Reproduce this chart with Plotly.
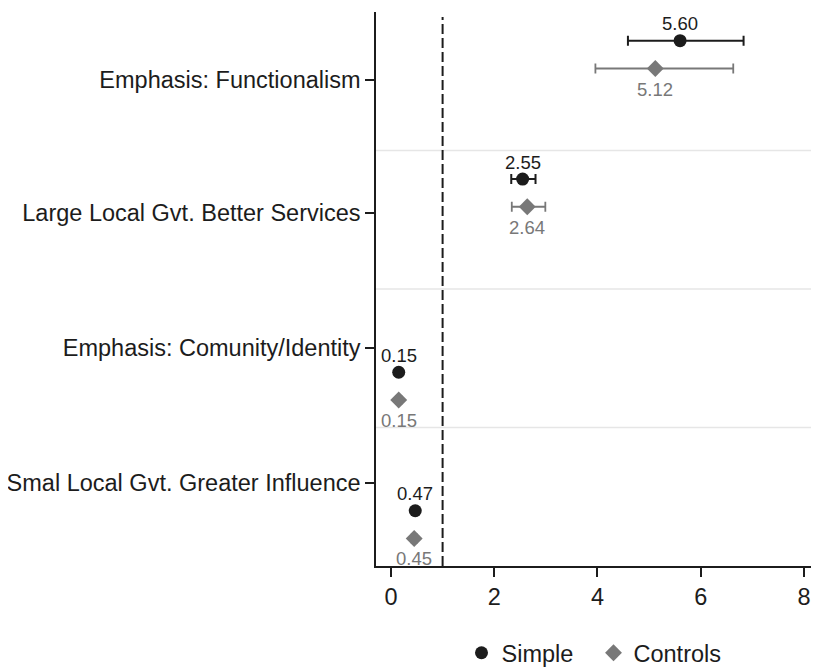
import plotly.graph_objects as go

categories = ["Emphasis: Functionalism", "Large Local Gvt. Better Services",
              "Emphasis: Comunity/Identity", "Smal Local Gvt. Greater Influence"]
simple = [5.60, 2.55, 0.15, 0.47]
simple_lo = [4.59, 2.33, 0.10, 0.42]
simple_hi = [6.83, 2.80, 0.20, 0.52]
controls = [5.12, 2.64, 0.15, 0.45]
controls_lo = [3.96, 2.34, 0.10, 0.40]
controls_hi = [6.63, 2.99, 0.20, 0.50]
xticks = [0, 2, 4, 6, 8]
reference_value = 1

# layout positions (band units, top = 0)
simple_pos = [0.207, 1.206, 2.601, 3.601]
controls_pos = [0.408, 1.406, 2.801, 3.801]
tick_pos = [0.491, 1.451, 2.426, 3.40]
band_edges = [1, 2, 3]

BLACK = "#1c1c1c"
GRAY = "#787878"
FONT = "Liberation Sans, Arial, sans-serif"

fig = go.Figure()
fig.add_trace(go.Scatter(
    x=simple, y=simple_pos, mode="markers", name="Simple",
    marker=dict(symbol="circle", size=13, color=BLACK),
    error_x=dict(type="data", symmetric=False,
                 array=[h - v for h, v in zip(simple_hi, simple)],
                 arrayminus=[v - l for v, l in zip(simple, simple_lo)],
                 color=BLACK, thickness=2, width=5),
))
fig.add_trace(go.Scatter(
    x=controls, y=controls_pos, mode="markers", name="Controls",
    marker=dict(symbol="diamond", size=13, color=GRAY),
    error_x=dict(type="data", symmetric=False,
                 array=[h - v for h, v in zip(controls_hi, controls)],
                 arrayminus=[v - l for v, l in zip(controls, controls_lo)],
                 color=GRAY, thickness=1.8, width=5),
))

annotations = []
for v, p in zip(simple, simple_pos):
    annotations.append(dict(x=v, y=p, xref="x", yref="y", text=f"{v:.2f}",
                            showarrow=False, yshift=17, yanchor="middle",
                            font=dict(size=18.5, color=BLACK, family=FONT)))
for v, p in zip(controls, controls_pos):
    annotations.append(dict(x=v, y=p, xref="x", yref="y", text=f"{v:.2f}",
                            showarrow=False, yshift=-20.5, yanchor="middle",
                            font=dict(size=18.5, color=GRAY, family=FONT)))

shapes = []
for e in band_edges:
    shapes.append(dict(type="line", xref="paper", yref="y", x0=0, x1=1, y0=e, y1=e,
                       line=dict(color="#e6e6e6", width=1.5), layer="below"))
shapes.append(dict(type="line", xref="x", yref="paper", x0=reference_value, x1=reference_value,
                   y0=0, y1=0.991, line=dict(color=BLACK, width=2, dash="10px,4px")))

fig.update_layout(
    width=803, height=660,
    margin=dict(l=368, r=0, t=4, b=102, autoexpand=False),
    paper_bgcolor="white", plot_bgcolor="white",
    font=dict(family=FONT, size=23.5, color=BLACK),
    showlegend=True,
    legend=dict(orientation="h", x=0.5, xanchor="center", y=-0.157, yanchor="middle",
                font=dict(size=23.5, color=BLACK), itemsizing="trace",
                entrywidth=87, entrywidthmode="pixels"),
    annotations=annotations, shapes=shapes,
    xaxis=dict(range=[-0.29, 8.136], tickvals=xticks, ticktext=[str(t) for t in xticks],
               showline=True, linecolor=BLACK, linewidth=1.5, ticks="outside",
               ticklen=9, tickwidth=1.5, tickcolor=BLACK, showgrid=False, zeroline=False,
               tickfont=dict(size=23.5), automargin=False, ticklabeloverflow="allow"),
    yaxis=dict(range=[4, 0], tickvals=tick_pos, ticktext=categories,
               showline=True, linecolor=BLACK, linewidth=1.5, ticks="outside",
               ticklen=9, tickwidth=1.5, tickcolor=BLACK, showgrid=False, zeroline=False,
               tickfont=dict(size=23.5), automargin=False),
)

fig.write_html("out.html")
